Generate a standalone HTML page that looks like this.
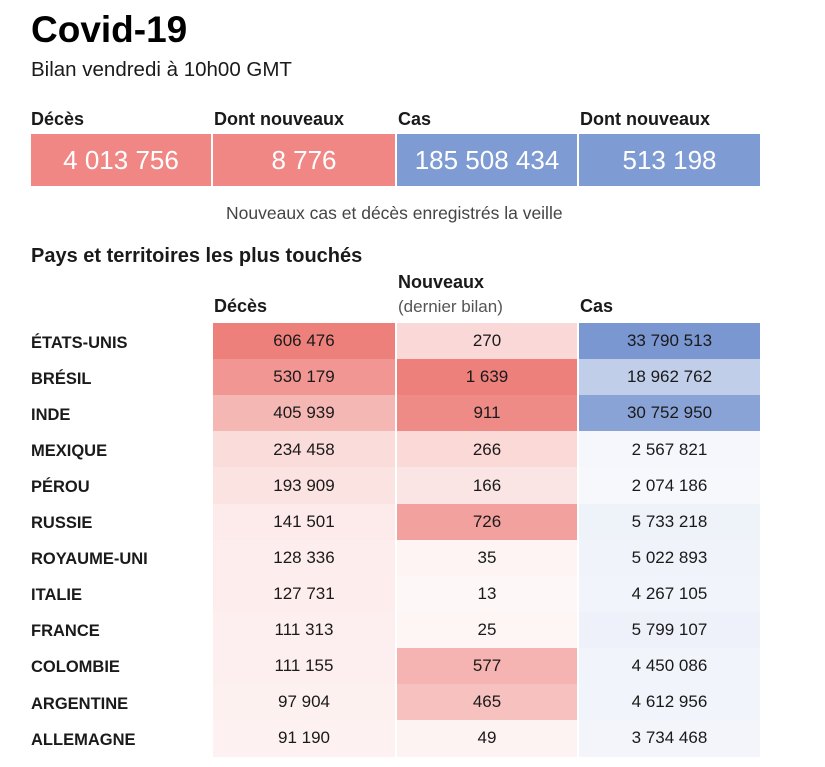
<!DOCTYPE html>
<html><head><meta charset="utf-8">
<style>
body{margin:0;background:#fff;width:825px;height:767px;position:relative;overflow:hidden;font-family:"Liberation Sans",sans-serif;color:#1a1a1a}
.a{position:absolute;white-space:nowrap}
.box{position:absolute;top:134px;height:52px;color:#fff;font-size:26px;display:flex;align-items:center;justify-content:center}
.lab{position:absolute;top:109px;font-size:18px;font-weight:bold}
.cell{position:absolute;display:flex;align-items:center;justify-content:center;font-size:17px}
.cty{position:absolute;left:31px;font-size:16.5px;font-weight:bold;display:flex;align-items:center}
</style></head><body>
<div class="a" style="left:31px;top:9px;font-size:37px;font-weight:bold;color:#000">Covid-19</div>
<div class="a" style="left:31px;top:58px;font-size:20.5px">Bilan vendredi à 10h00 GMT</div>

<div class="lab" style="left:31px">Décès</div>
<div class="lab" style="left:214px">Dont nouveaux</div>
<div class="lab" style="left:398px">Cas</div>
<div class="lab" style="left:580px">Dont nouveaux</div>
<div class="box" style="left:31px;width:180px;background:#f08784">4 013 756</div>
<div class="box" style="left:213px;width:182px;background:#f08784">8 776</div>
<div class="box" style="left:397px;width:180px;background:#7f9bd3">185 508 434</div>
<div class="box" style="left:579px;width:181px;background:#7f9bd3">513 198</div>
<div class="a" style="left:226px;top:203px;font-size:17.5px;color:#444">Nouveaux cas et décès enregistrés la veille</div>

<div class="a" style="left:31px;top:245px;font-size:20px;font-weight:bold">Pays et territoires les plus touchés</div>
<div class="a" style="left:214px;top:296px;font-size:18px;font-weight:bold">Décès</div>
<div class="a" style="left:398px;top:272px;font-size:18px;font-weight:bold">Nouveaux</div>
<div class="a" style="left:398px;top:297px;font-size:17px;color:#555">(dernier bilan)</div>
<div class="a" style="left:580px;top:296px;font-size:18px;font-weight:bold">Cas</div>
<div id="tbl"></div>
<script>
const countries=["ÉTATS-UNIS","BRÉSIL","INDE","MEXIQUE","PÉROU","RUSSIE","ROYAUME-UNI","ITALIE","FRANCE","COLOMBIE","ARGENTINE","ALLEMAGNE"];
const deaths=[606476,530179,405939,234458,193909,141501,128336,127731,111313,111155,97904,91190];
const newDeaths=[270,1639,911,266,166,726,35,13,25,577,465,49];
const cases=[33790513,18962762,30752950,2567821,2074186,5733218,5022893,4267105,5799107,4450086,4612956,3734468];
function fmt(n){return String(n).replace(/\B(?=(\d{3})+(?!\d))/g," ");}
function mix(c,t){const w=[255,255,255];return "rgb("+c.map((v,i)=>Math.round(w[i]+(v-w[i])*t)).join(",")+")";}
const red=[238,128,124],blue=[122,151,210];
const tbl=document.getElementById('tbl');
const top0=323,rowH=36.1;
const cols=[{x:213,w:182,d:deaths,c:red,n:'deces',cap:606476,p:1.5},{x:397,w:180,d:newDeaths,c:red,n:'nouveaux',cap:1000,p:1},{x:579,w:181,d:cases,c:blue,n:'cas',cap:33790513,p:1.4}];
countries.forEach((name,i)=>{
  const y=top0+i*rowH;
  const l=document.createElement('div');
  l.className='cty';l.style.top=(y+2)+'px';l.style.height=rowH+'px';l.textContent=name;
  
  
  tbl.appendChild(l);
  cols.forEach(col=>{
    const r=Math.min(1,col.d[i]/col.cap);
    const t=0.05+0.95*Math.pow(r,col.p);
    const c=document.createElement('div');
    c.className='cell';
    c.style.left=col.x+'px';c.style.width=col.w+'px';c.style.top=y+'px';c.style.height=(rowH+0.5)+'px';
    c.style.background=mix(col.c,t);
    c.textContent=fmt(col.d[i]);
    
    
    tbl.appendChild(c);
  });
});
</script>
</body></html>
